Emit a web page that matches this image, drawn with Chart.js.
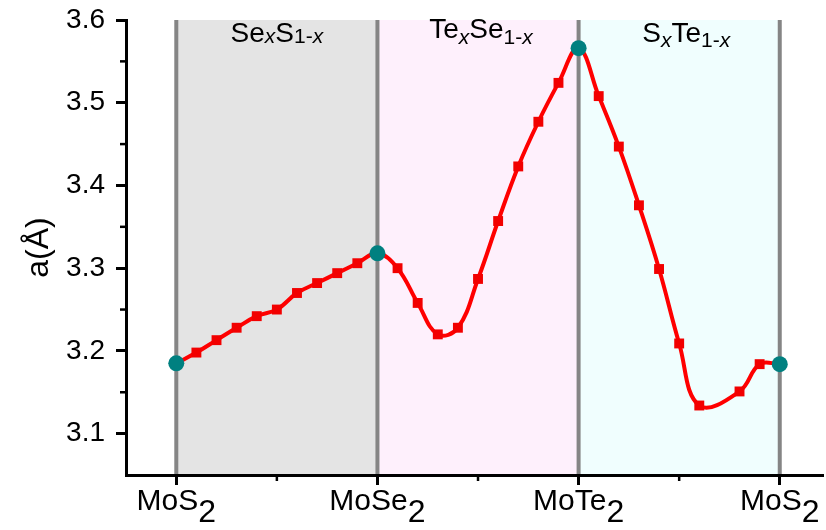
<!DOCTYPE html>
<html>
<head>
<meta charset="utf-8">
<script src="https://cdn.jsdelivr.net/npm/chart.js@4.4.1/dist/chart.umd.min.js"></script>
<style>
  html, body { margin: 0; padding: 0; background: #fff; overflow: hidden; }
  canvas { display: block; }
</style>
</head>
<body>
<!-- 5px wider than the window: Chart.js keeps a small right gutter, the axis runs to the edge -->
<canvas id="latticeChart" width="831" height="530"></canvas>
<script>
// position along the MoS2 -> MoSe2 -> MoTe2 -> MoS2 path (0..1 per alloy)
const compX = [
  0, 0.1, 0.2, 0.3, 0.4, 0.5, 0.6, 0.7, 0.8, 0.9,
  1, 1.1, 1.2, 1.3, 1.4, 1.5, 1.6, 1.7, 1.8, 1.9,
  2, 2.1, 2.2, 2.3, 2.4, 2.5, 2.6, 2.7, 2.8, 2.9, 3
];
// lattice constant a (Å); 2.7 has no computed value
const latticeA = [
  3.185, 3.198, 3.213, 3.228, 3.242, 3.250, 3.270, 3.282, 3.294, 3.306,
  3.318, 3.300, 3.258, 3.220, 3.228, 3.287, 3.357, 3.423, 3.477, 3.524,
  3.566, 3.508, 3.447, 3.376, 3.299, 3.209, 3.134, null, 3.151, 3.184, 3.184
];
// pristine end members
const endX = [0, 1, 2, 3];
const endA = [3.185, 3.318, 3.566, 3.184];
const endNames = ['MoS', 'MoSe', 'MoTe', 'MoS'];
const yTicks = [3.1, 3.2, 3.3, 3.4, 3.5, 3.6];

// alloy names as runs: [text, subscript, italic]
const alloyNames = [
  [['Se', 0, 0], ['x', 1, 1], ['S', 0, 0], ['1-', 1, 0], ['x', 1, 1]],
  [['Te', 0, 0], ['x', 1, 1], ['Se', 0, 0], ['1-', 1, 0], ['x', 1, 1]],
  [['S', 0, 0], ['x', 1, 1], ['Te', 0, 0], ['1-', 1, 0], ['x', 1, 1]]
];
const bandColors = ['#e4e4e4', '#fef0fc', '#f0fefe'];

const FONT = '"Liberation Sans", Arial, sans-serif';

function drawRuns(ctx, runs, cx, base, subDrop) {
  const fontFor = r => (r[2] ? 'italic ' : '') + (r[1] ? '21px ' : '28px ') + FONT;
  let total = 0;
  runs.forEach(r => { ctx.font = fontFor(r); total += ctx.measureText(r[0]).width; });
  let x = cx - total / 2;
  runs.forEach(r => {
    ctx.font = fontFor(r);
    ctx.fillText(r[0], x, base + (r[1] ? subDrop : 0));
    x += ctx.measureText(r[0]).width;
  });
}

// keep the plot box fixed; labels may overhang it
function noOverhang(s) {
  s.paddingTop = 0;
  s.paddingBottom = 0;
  s.paddingLeft = 0;
  s.paddingRight = 0;
}

const panelPlugin = {
  id: 'panels',
  beforeDraw(chart) {
    const { ctx, chartArea: a, scales: { x } } = chart;
    ctx.save();
    bandColors.forEach((c, i) => {
      const x0 = x.getPixelForValue(endX[i]);
      const x1 = x.getPixelForValue(endX[i + 1]);
      ctx.fillStyle = c;
      ctx.fillRect(x0, a.top, x1 - x0, a.bottom - a.top);
    });
    ctx.strokeStyle = '#858585';
    ctx.lineWidth = 4;
    endX.forEach(v => {
      const px = x.getPixelForValue(v);
      ctx.beginPath();
      ctx.moveTo(px, a.top);
      ctx.lineTo(px, a.bottom);
      ctx.stroke();
    });
    ctx.restore();
  },
  afterDraw(chart) {
    const { ctx, chartArea: a, scales: { x, y } } = chart;
    ctx.save();
    // minor ticks halfway between the labelled ones
    ctx.strokeStyle = '#000';
    ctx.lineWidth = 2.5;
    for (let i = 0; i < yTicks.length - 1; i++) {
      const py = y.getPixelForValue((yTicks[i] + yTicks[i + 1]) / 2);
      ctx.beginPath(); ctx.moveTo(a.left - 6, py); ctx.lineTo(a.left, py); ctx.stroke();
    }
    for (let i = 0; i < endX.length - 1; i++) {
      const px = x.getPixelForValue((endX[i] + endX[i + 1]) / 2);
      ctx.beginPath(); ctx.moveTo(px, a.bottom); ctx.lineTo(px, a.bottom + 6); ctx.stroke();
    }

    // end member names with subscript 2
    ctx.fillStyle = '#000';
    ctx.textBaseline = 'alphabetic';
    endNames.forEach((name, i) => {
      const px = x.getPixelForValue(endX[i]);
      ctx.font = '30px ' + FONT;
      const w1 = ctx.measureText(name).width;
      ctx.font = '32px ' + FONT;
      const w2 = ctx.measureText('2').width;
      const x0 = px - (w1 + w2) / 2;
      ctx.font = '30px ' + FONT;
      ctx.fillText(name, x0, a.bottom + 35);
      ctx.font = '32px ' + FONT;
      ctx.fillText('2', x0 + w1, a.bottom + 47);
    });

    // alloy names above each band
    const bases = [42, 37.5, 41.5];
    const drops = [1, 6.5, 5.5];
    alloyNames.forEach((runs, i) => {
      const cx = (x.getPixelForValue(endX[i]) + x.getPixelForValue(endX[i + 1])) / 2;
      drawRuns(ctx, runs, cx + [0, 3, 7][i], bases[i], drops[i]);
    });
    ctx.restore();
  }
};

new Chart(document.getElementById('latticeChart'), {
  type: 'line',
  data: {
    datasets: [
      {
        data: endX.map((v, i) => ({ x: v, y: endA[i] })),
        showLine: false,
        pointStyle: 'circle',
        pointRadius: 8,
        pointBackgroundColor: '#008080',
        pointBorderWidth: 0,
        order: 1
      },
      {
        data: compX.map((v, i) => ({ x: v, y: latticeA[i] })),
        borderColor: '#ff0000',
        borderWidth: 4,
        tension: 0.4,
        spanGaps: true,
        pointStyle: 'rect',
        pointRadius: 7,
        pointBackgroundColor: '#f20000',
        pointBorderWidth: 0,
        order: 2
      }
    ]
  },
  options: {
    responsive: false,
    animation: false,
    devicePixelRatio: 1,
    layout: { padding: { top: 20, right: 0, bottom: 0, left: 0 } },
    plugins: { legend: { display: false }, tooltip: { enabled: false } },
    scales: {
      x: {
        type: 'linear',
        min: -0.25,
        max: 3.215,
        afterBuildTicks: s => { s.ticks = endX.map(v => ({ value: v })); },
        afterFit: s => { s.height = 55; noOverhang(s); },
        ticks: { display: false },
        grid: { drawOnChartArea: false, drawTicks: true, tickLength: 10, tickWidth: 3, tickColor: '#000' },
        border: { display: true, width: 3, color: '#000' }
      },
      y: {
        min: 3.05,
        max: 3.6,
        afterBuildTicks: s => { s.ticks = yTicks.map(v => ({ value: v })); },
        afterFit: s => { s.width = 126; noOverhang(s); },
        ticks: {
          color: '#000',
          padding: 11,
          font: { family: FONT, size: 28 },
          callback: v => v.toFixed(1)
        },
        grid: { drawOnChartArea: false, drawTicks: true, tickLength: 10, tickWidth: 3, tickColor: '#000' },
        border: { display: true, width: 3, color: '#000' },
        title: {
          display: true,
          text: 'a(Å)',
          color: '#000',
          font: { family: FONT, size: 32 },
          padding: { top: 20, bottom: 0 }
        }
      }
    }
  },
  plugins: [panelPlugin]
});
</script>
</body>
</html>
